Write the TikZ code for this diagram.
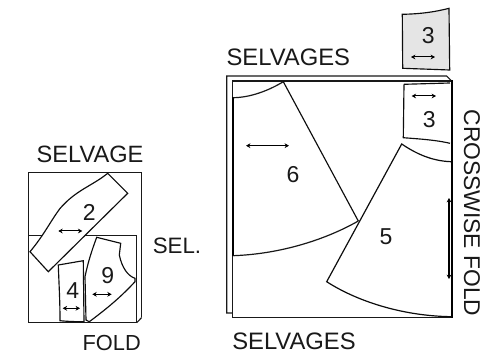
\documentclass[tikz,border=0pt]{standalone}
\usepackage{fontspec}
\setmainfont{Liberation Sans}
\usetikzlibrary{arrows.meta}
\tikzset{
  outline/.style={draw=black!90,line width=1.1pt,line join=miter},
  pieceline/.style={draw=black!95,fill=white,line width=1.15pt,line join=miter},
  grain/.style={black,line width=1pt,{Stealth[length=4.4pt,width=4.8pt]}-{Stealth[length=4.4pt,width=4.8pt]}},
  lbl/.style={inner sep=0pt,text=black!90},
  num/.style={inner sep=0pt,font=\fontsize{23}{25}\selectfont,text=black!90}
}
\newcommand{\fs}[1]{\fontsize{#1}{#1}\selectfont}
\begin{document}
\begin{tikzpicture}[x=1pt,y=-1pt]
\useasboundingbox (0,0) rectangle (501,352);
\fill[white] (0,0) rectangle (501,352);
% left layout
\draw[outline] (141.7,317.5) -- (141.7,172.7) -- (28.3,172.7) -- (28.3,322.7) -- (136.7,322.7) -- (136.7,235.3) -- (28.3,235.3);
\draw[outline] (136.7,322.7) -- (141.7,317.5);
\draw[pieceline] (107.7,173.3) -- (127.7,193.3) -- (48.3,271.7) -- (30,251.7)
  .. controls (44,235) and (50,222) .. (60,208.5)
  .. controls (76,190) and (92,186) .. cycle;
\draw[pieceline] (58.3,265) -- (83.3,260.7) -- (84,321.7)
  .. controls (75,321.7) and (68,321.5) .. (60,320.7)
  .. controls (60,300) and (59,285) .. cycle;
\draw[pieceline] (96.7,237.3) -- (120.7,243.3) -- (119.3,255)
  .. controls (122,268) and (128,276) .. (135,278.3)
  -- (135,281.7)
  .. controls (120,298) and (105,310) .. (89.3,321.7)
  -- (86,320) -- (85,276.7)
  .. controls (88,262) and (92,250) .. cycle;
\draw[grain] (58.3,231) -- (82.3,231);
\draw[grain] (62.7,308.3) -- (80,308.3);
\draw[grain] (92.3,294.3) -- (111.7,294.3);
\node[num] (n2) at (89.3,212.5) {2};
\node[num] (n4) at (72.7,290.5) {4};
\node[num] (n9) at (107.7,275.5) {9};
\node[lbl,font=\fs{23.6}] (selvage) at (90,154) {SELVAGE};
\node[lbl,font=\fs{22.3}] (sel) at (177,245.5) {SEL.};
\node[lbl,font=\fs{21.8}] (foldl) at (111.7,342.5) {FOLD};
% right layout
\draw[outline] (232.3,313) -- (226.7,313) -- (226.7,76) -- (446.7,76) -- (451.7,81);
\draw[outline] (232.3,81) -- (451.7,81);
\draw[outline] (232.3,81) -- (232.3,317.7) -- (451.7,317.7);
\draw[black,line width=2pt] (233,97) -- (233,256);
\draw[black,line width=2.1pt] (451.7,80.5) -- (451.7,317.7);
\draw[outline,line width=1.2pt] (283.3,81.7) .. controls (268,91) and (250,97.5) .. (233.3,97.7);
\draw[outline,line width=1.2pt] (233.3,255.7) .. controls (280,254) and (325,240) .. (358.3,221);
\draw[pieceline,fill=none] (283.3,81.7) -- (358.3,221);
\draw[pieceline,fill=none,line width=1.2pt] (451,161.7) .. controls (431,161) and (415,153) .. (401.7,144) -- (326.7,281.7) .. controls (355,300) and (400,316) .. (451.7,316.7);
\draw[pieceline,fill=none] (404,84.3) -- (450,83);
\draw[pieceline,fill=none] (404,84.3) -- (403.3,137.7) .. controls (420,139) and (436,140) .. (450,143.3);
\draw[pieceline,fill=black!10] (402.3,14.3) .. controls (420,14) and (435,12) .. (449,8.3) -- (449.7,70) -- (402.7,68.3) -- cycle;
\draw[grain] (411,57) -- (435,57);
\draw[grain] (411.7,96) -- (436,96);
\draw[grain] (246,145.7) -- (289,145.7);
\draw[grain,line width=1.3pt] (449,198) -- (449,279);
\node[num] (n3a) at (428.3,35.5) {3};
\node[num] (n3b) at (429.3,120) {3};
\node[num] (n6) at (293,175) {6};
\node[num] (n5) at (386,236.7) {5};
\node[lbl,font=\fs{23.8}] (selt) at (288.3,57) {SELVAGES};
\node[lbl,font=\fs{23.8}] (selb) at (294,341.5) {SELVAGES};
\node[lbl,rotate=-90,font=\fs{22.8}] (cross) at (472,213) {CROSSWISE FOLD};
\end{tikzpicture}
\end{document}
